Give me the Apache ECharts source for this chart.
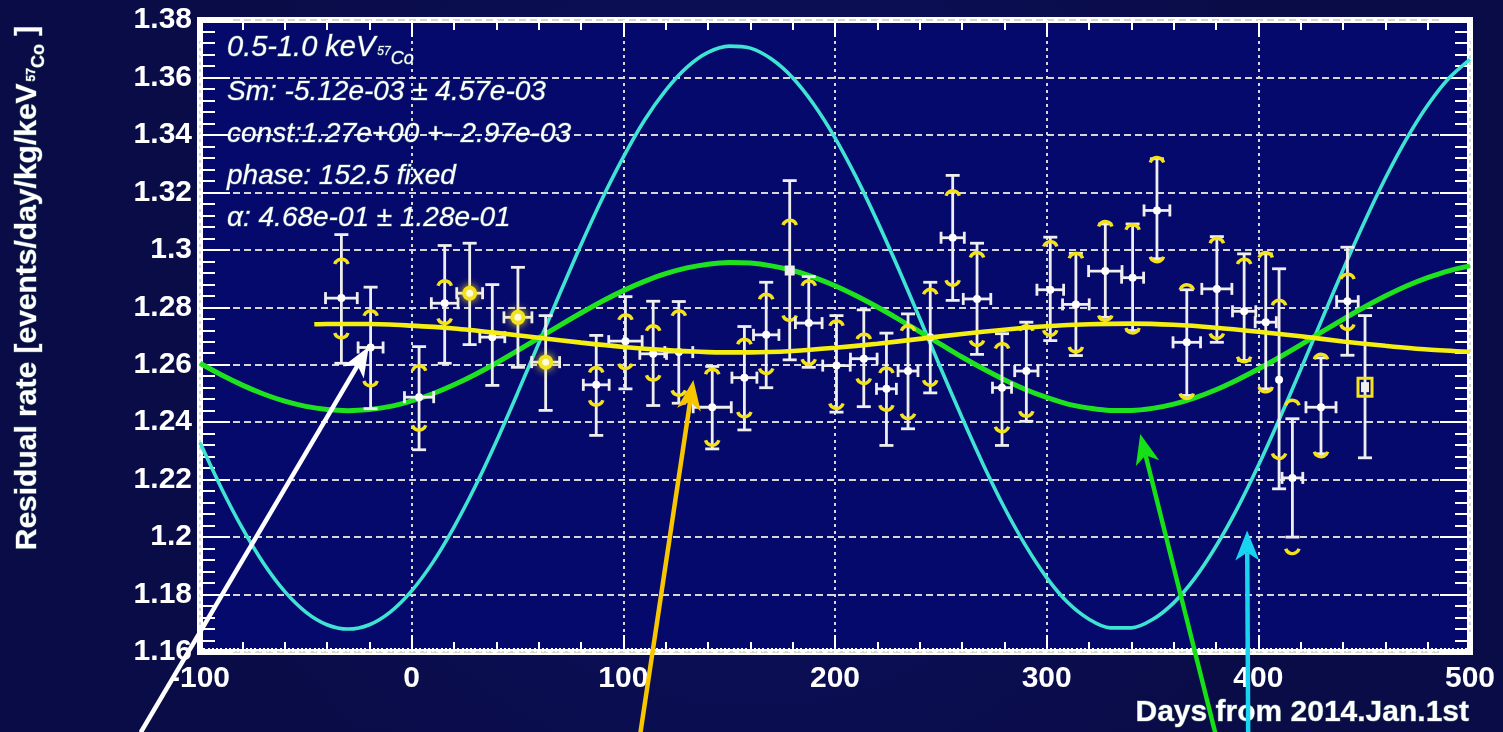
<!DOCTYPE html>
<html>
<head>
<meta charset="utf-8">
<script src="https://cdn.jsdelivr.net/npm/echarts@6/dist/echarts.min.js"></script>
<style>
html,body{margin:0;padding:0;background:#0c0f50;}
#chart{width:1503px;height:732px;}
</style>
</head>
<body>
<div id="chart"></div>
<script>
// ---------------- DATA ----------------
// Data points: day, rate, half-width in days, lower / upper error (white), lower / upper yellow caps
const days     = [-33.2,-19.4,3.5,15.6,27.4,38.1,50.2,63.3,87.2,101.0,114.1,126.2,142.0,157.2,167.5,178.6,187.6,200.7,213.6,224.3,234.5,245.0,255.6,267.1,278.9,290.4,301.7,313.8,327.7,340.6,352.1,366.2,380.4,393.3,403.5,409.8,416.1,429.6,442.1,450.4];
const rates    = [1.2832,1.2660,1.2487,1.2814,1.2849,1.2696,1.2765,1.2609,1.2530,1.2682,1.2638,1.2644,1.2452,1.2555,1.2704,1.2928,1.2745,1.2597,1.2621,1.2516,1.2578,1.2696,1.3042,1.2829,1.2520,1.2578,1.2861,1.2810,1.2926,1.2903,1.3137,1.2678,1.2864,1.2786,1.2748,1.2548,1.2206,1.2452,1.2821,1.2522];
const dayErr   = [7.5,5.9,6.9,6.3,6.1,5.9,6.6,6.6,6.1,7.9,6.3,6.6,9.0,5.9,6.0,0,6.3,6.5,6.3,4.7,4.7,0,5.5,6.5,4.5,5.5,6.3,6.3,7.9,5.2,6.1,6.5,7.1,5.5,5.0,0,4.9,7.1,5.1,0];
const rateLow  = [1.2605,1.2447,1.2304,1.2605,1.2670,1.2528,1.2591,1.2441,1.2354,1.2516,1.2458,1.2466,1.2307,1.2373,1.2520,1.2617,1.2591,1.2435,1.2454,1.2319,1.2377,1.2502,1.2824,1.2636,1.2319,1.2403,1.2684,1.2632,1.2765,1.2719,1.2969,1.2493,1.2678,1.2615,1.2516,1.2168,1.2000,1.2290,1.2633,1.2276];
const rateHigh = [1.3053,1.2870,1.2663,1.3015,1.3023,1.2879,1.2939,1.2771,1.2702,1.2837,1.2821,1.2820,1.2594,1.2733,1.2887,1.3241,1.2907,1.2771,1.2791,1.2710,1.2777,1.2887,1.3259,1.3023,1.2708,1.2748,1.3044,1.2988,1.3090,1.3090,1.3317,1.2861,1.3046,1.2986,1.2986,1.2934,1.2412,1.2624,1.3009,1.2771];
const yelLow   = [1.2704,1.2537,1.2383,1.2754,null,null,null,null,1.2470,1.2597,1.2557,1.2504,1.2330,1.2429,1.2580,1.2765,1.2612,1.2458,1.2545,1.2452,1.2423,1.2539,1.2887,1.2678,1.2377,1.2431,1.2713,1.2655,1.2765,1.2721,1.2969,1.2493,1.2702,1.2621,1.2516,1.2284,1.1953,1.2290,1.2733,null];
const yelHigh  = [1.2957,1.2777,1.2586,1.2882,null,null,null,null,1.2580,1.2763,1.2725,1.2777,1.2574,1.2678,1.2835,1.3093,1.2882,1.2742,1.2696,1.2578,1.2725,1.2852,1.3195,1.2980,1.2663,1.2725,1.3018,1.2977,1.3088,1.3077,1.3311,1.2868,1.3030,1.2957,1.2980,1.2814,1.2466,1.2626,1.2905,null];
// points whose yellow centre is visible, the square one and the boxed one
const yellowCentre = [4,6,7];
const squareCentre = [15];
const boxedCentre  = [39];

// Fit curves (every 10 days)
const curveDays  = [-100,-90,-80,-70,-60,-50,-40,-30,-20,-10,0,10,20,30,40,50,60,70,80,90,100,110,120,130,140,150,160,170,180,190,200,210,220,230,240,250,260,270,280,290,300,310,320,330,340,350,360,370,380,390,400,410,420,430,440,450,460,470,480,490,500];
const cyanRates  = [1.2329,1.2172,1.2031,1.1909,1.1811,1.1739,1.1695,1.1680,1.1695,1.1740,1.1813,1.1912,1.2035,1.2176,1.2333,1.2501,1.2674,1.2848,1.3018,1.3178,1.3323,1.3451,1.3555,1.3635,1.3687,1.3709,1.3702,1.3664,1.3599,1.3506,1.3390,1.3253,1.3099,1.2934,1.2762,1.2587,1.2416,1.2253,1.2103,1.1971,1.1859,1.1772,1.1714,1.1684,1.1684,1.1713,1.1771,1.1857,1.1968,1.2099,1.2249,1.2412,1.2583,1.2757,1.2930,1.3095,1.3249,1.3386,1.3503,1.3597,1.3663];
const greenRates = [1.2605,1.2565,1.2529,1.2498,1.2473,1.2455,1.2444,1.2440,1.2444,1.2455,1.2474,1.2499,1.2530,1.2566,1.2606,1.2649,1.2693,1.2737,1.2780,1.2821,1.2858,1.2890,1.2917,1.2937,1.2950,1.2956,1.2954,1.2944,1.2928,1.2904,1.2875,1.2840,1.2801,1.2759,1.2715,1.2671,1.2627,1.2586,1.2548,1.2514,1.2486,1.2463,1.2449,1.2441,1.2441,1.2448,1.2463,1.2485,1.2513,1.2547,1.2585,1.2626,1.2669,1.2714,1.2758,1.2800,1.2839,1.2874,1.2903,1.2927,1.2944];
const yellowDays  = [-46,-40,-20,0,20,40,60,80,100,120,140,160,180,200,220,240,260,280,300,320,340,360,380,400,420,440,460,480,500];
const yellowRates = [1.2741,1.2742,1.2742,1.2736,1.2726,1.2711,1.2694,1.2677,1.2662,1.2651,1.2644,1.2643,1.2648,1.2659,1.2673,1.2690,1.2707,1.2722,1.2734,1.2741,1.2743,1.2739,1.2729,1.2715,1.2699,1.2681,1.2666,1.2653,1.2645];

// Axis tick settings
const xMin = -100, xMax = 500, xStep = 100;
const yMin = 1.16, yMax = 1.38, yStep = 0.02;

// Annotation arrows: [tailDay, tailRate, tipDay, tipRate]
const whiteArrow  = [-128, 1.132, -20.3, 1.2663];
const yellowArrow = [108.1, 1.132, 133.1, 1.2547];
const greenArrow  = [379.6, 1.132, 344.2, 1.2359];
const cyanArrow   = [395.2, 1.132, 394.7, 1.2023];

// Text
const statLines = [
  '{a|0.5-1.0 keV}{s|57}{c|Co}',
  'Sm: -5.12e-03 ± 4.57e-03',
  'const:1.27e+00 +- 2.97e-03',
  'phase: 152.5 fixed',
  'α: 4.68e-01 ± 1.28e-01'
];
const yTitle = '{a|Residual rate [events/day/kg/keV}{s|57}{c|Co}{a| ]}';
const xTitle = 'Days from 2014.Jan.1st';

// ---------------- CHART ----------------
const chart = echarts.init(document.getElementById('chart'), null, {renderer: 'canvas'});

const pts = days.map((d, i) => [d, rates[i], dayErr[i], rateLow[i], rateHigh[i],
  yelLow[i] == null ? 0 : yelLow[i], yelHigh[i] == null ? 0 : yelHigh[i],
  yellowCentre.includes(i) ? 1 : squareCentre.includes(i) ? 2 : boxedCentre.includes(i) ? 3 : 0]);

const WHITE = '#eeeeee', YEL = '#f3e21c';

function renderPoint(params, api) {
  const t = api.value(0), v = api.value(1), dx = api.value(2);
  const lo = api.value(3), hi = api.value(4), yl = api.value(5), yh = api.value(6), kind = api.value(7);
  const c = api.coord([t, v]);
  const pLo = api.coord([t, lo]), pHi = api.coord([t, hi]);
  const x = c[0];
  const ch = [];
  const ls = {stroke: WHITE, lineWidth: 2.8};
  ch.push({type: 'line', shape: {x1: x, y1: pLo[1], x2: x, y2: pHi[1]}, style: ls});
  ch.push({type: 'line', shape: {x1: x - 7, y1: pLo[1], x2: x + 7, y2: pLo[1]}, style: ls});
  ch.push({type: 'line', shape: {x1: x - 7, y1: pHi[1], x2: x + 7, y2: pHi[1]}, style: ls});
  if (dx > 0) {
    const pL = api.coord([t - dx, v]), pR = api.coord([t + dx, v]);
    ch.push({type: 'line', shape: {x1: pL[0], y1: c[1], x2: pR[0], y2: c[1]}, style: ls});
    ch.push({type: 'line', shape: {x1: pL[0], y1: c[1] - 6, x2: pL[0], y2: c[1] + 6}, style: ls});
    ch.push({type: 'line', shape: {x1: pR[0], y1: c[1] - 6, x2: pR[0], y2: c[1] + 6}, style: ls});
  }
  const ys = {stroke: YEL, lineWidth: 3.4, fill: null};
  if (yl > 0) {
    const py = api.coord([t, yl])[1];
    ch.push({type: 'arc', shape: {cx: x, cy: py - 4, r: 7, startAngle: 0.3, endAngle: Math.PI - 0.3}, style: ys});
  }
  if (yh > 0) {
    const py = api.coord([t, yh])[1];
    ch.push({type: 'arc', shape: {cx: x, cy: py + 4, r: 7, startAngle: Math.PI + 0.3, endAngle: 2 * Math.PI - 0.3}, style: ys});
  }
  if (kind === 1) {
    ch.push({type: 'circle', shape: {cx: x, cy: c[1], r: 7.5}, style: {fill: YEL, shadowBlur: 8, shadowColor: YEL}});
    ch.push({type: 'circle', shape: {cx: x, cy: c[1], r: 3.5}, style: {fill: '#fffbe0'}});
  } else if (kind === 2) {
    ch.push({type: 'rect', shape: {x: x - 5, y: c[1] - 5, width: 10, height: 10}, style: {fill: WHITE}});
  } else if (kind === 3) {
    ch.push({type: 'rect', shape: {x: x - 7, y: c[1] - 9, width: 14, height: 18}, style: {fill: null, stroke: YEL, lineWidth: 3}});
    ch.push({type: 'rect', shape: {x: x - 4, y: c[1] - 5, width: 8, height: 10}, style: {fill: WHITE}});
  } else {
    ch.push({type: 'circle', shape: {cx: x, cy: c[1], r: 4}, style: {fill: '#ffffff'}});
  }
  return {type: 'group', children: ch};
}

const labelFont = {color: '#ffffff', fontSize: 30, fontWeight: 'bold', fontFamily: 'Liberation Sans'};
const tickStyle = {color: '#ffffff', width: 2};

const option = {
  backgroundColor: {
    type: 'radial', x: 0.5, y: 0.45, r: 0.8,
    colorStops: [{offset: 0, color: '#0c1060'}, {offset: 1, color: '#0a0c48'}]
  },
  animation: false,
  grid: {left: 200, right: 33, top: 20, bottom: 80, show: true,
         backgroundColor: '#06096c', borderColor: '#ffffff', borderWidth: 6},
  xAxis: [
    {type: 'value', min: xMin, max: xMax, interval: xStep, position: 'bottom',
     axisLine: {show: false, onZero: false},
     axisTick: {inside: true, length: 17, lineStyle: tickStyle},
     minorTick: {show: true, splitNumber: 5, length: 10, lineStyle: tickStyle},
     splitLine: {show: true, lineStyle: {color: '#d6d6d6', width: 2, type: [3, 4]}},
     axisLabel: Object.assign({margin: 12}, labelFont)},
    {type: 'value', min: xMin, max: xMax, interval: 20, position: 'bottom',
     axisLine: {show: false, onZero: false}, axisLabel: {show: false}, splitLine: {show: false},
     axisTick: {inside: true, length: 4, lineStyle: tickStyle},
     minorTick: {show: true, splitNumber: 10, length: 4, lineStyle: tickStyle}},
    {type: 'value', min: xMin, max: xMax, interval: xStep, position: 'top',
     axisLine: {show: false, onZero: false}, axisLabel: {show: false}, splitLine: {show: false},
     axisTick: {inside: true, length: 17, lineStyle: tickStyle},
     minorTick: {show: true, splitNumber: 5, length: 10, lineStyle: tickStyle}}
  ],
  yAxis: [
    {type: 'value', min: yMin, max: yMax, interval: yStep, position: 'left',
     axisLine: {show: false, onZero: false},
     axisTick: {inside: true, length: 30, lineStyle: tickStyle},
     minorTick: {show: true, splitNumber: 5, length: 15, lineStyle: tickStyle},
     splitLine: {show: true, lineStyle: {color: '#d6d6d6', width: 2.2, type: [7, 4]}},
     axisLabel: Object.assign({margin: 8, formatter: v => String(+v.toFixed(2))}, labelFont)},
    {type: 'value', min: yMin, max: yMax, interval: yStep, position: 'right',
     axisLine: {show: false, onZero: false}, axisLabel: {show: false}, splitLine: {show: false},
     axisTick: {inside: true, length: 30, lineStyle: tickStyle},
     minorTick: {show: true, splitNumber: 5, length: 15, lineStyle: tickStyle}}
  ],
  series: [
    {name: 'cyan', type: 'line', smooth: 0.3, showSymbol: false, z: 2,
     data: curveDays.map((d, i) => [d, cyanRates[i]]),
     lineStyle: {color: '#3fe3d3', width: 3.6}},
    {name: 'green', type: 'line', smooth: 0.3, showSymbol: false, z: 3,
     data: curveDays.map((d, i) => [d, greenRates[i]]),
     lineStyle: {color: '#1fe21f', width: 5}},
    {name: 'points', type: 'custom', z: 4, renderItem: renderPoint,
     encode: {x: 0, y: 1}, data: pts},
    {name: 'yellow', type: 'line', smooth: 0.3, showSymbol: false, z: 5,
     data: yellowDays.map((d, i) => [d, yellowRates[i]]),
     lineStyle: {color: '#f4ee12', width: 4.6}}
  ]
};
chart.setOption(option);

// ---------------- text + arrows ----------------
const FAM = 'Liberation Sans';
const statRich = {
  a: {fontSize: 29, fontStyle: 'italic', fontFamily: FAM, fill: '#ffffff', lineHeight: 40, verticalAlign: 'middle'},
  s: {fontSize: 12, fontStyle: 'italic', fontFamily: FAM, fill: '#ffffff', verticalAlign: 'bottom', padding: [0, 0, 10, 2]},
  c: {fontSize: 18, fontStyle: 'italic', fontFamily: FAM, fill: '#ffffff', verticalAlign: 'bottom'}
};
const statY = [48, 92, 134, 176, 218];
const graphics = statLines.map((txt, i) => ({
  type: 'text', x: 227, y: statY[i], z: 20,
  style: {text: txt, fontSize: 28, fontStyle: 'italic', fontFamily: FAM, fill: '#ffffff',
          stroke: 'rgba(150,220,150,0.45)', lineWidth: 1,
          align: 'left', verticalAlign: 'middle', rich: statRich}
}));

graphics.push({
  type: 'text', x: 28, y: 288, rotation: Math.PI / 2, z: 20,
  style: {text: yTitle, align: 'center', verticalAlign: 'middle',
          stroke: 'rgba(150,220,150,0.45)', lineWidth: 1,
          rich: {
            a: {fontSize: 30, fontWeight: 'bold', fontFamily: FAM, fill: '#ffffff', lineHeight: 40, verticalAlign: 'middle'},
            s: {fontSize: 12, fontWeight: 'bold', fontFamily: FAM, fill: '#ffffff', verticalAlign: 'bottom', padding: [0, 0, 10, 2]},
            c: {fontSize: 18, fontWeight: 'bold', fontFamily: FAM, fill: '#ffffff', verticalAlign: 'bottom'}
          }}
});
graphics.push({
  type: 'text', x: 1469, y: 713, z: 20,
  style: {text: xTitle, fontSize: 30, fontWeight: 'bold', fontFamily: FAM, fill: '#ffffff',
          stroke: 'rgba(150,220,150,0.45)', lineWidth: 1,
          align: 'right', verticalAlign: 'middle'}
});

function arrow(def, color) {
  const tail = chart.convertToPixel({xAxisIndex: 0, yAxisIndex: 0}, [def[0], def[1]]);
  const tip = chart.convertToPixel({xAxisIndex: 0, yAxisIndex: 0}, [def[2], def[3]]);
  const dx = tip[0] - tail[0], dy = tip[1] - tail[1];
  const L = Math.hypot(dx, dy), ux = dx / L, uy = dy / L, nx = -uy, ny = ux;
  const hl = 30, hw = 12, notch = 22;
  const bx = tip[0] - ux * hl, by = tip[1] - uy * hl;
  const mx = tip[0] - ux * notch, my = tip[1] - uy * notch;
  return [
    {type: 'line', z: 30, shape: {x1: tail[0], y1: tail[1], x2: mx, y2: my},
     style: {stroke: color, lineWidth: 4.5}},
    {type: 'polygon', z: 30, shape: {points: [tip, [bx + nx * hw, by + ny * hw], [mx, my], [bx - nx * hw, by - ny * hw]]},
     style: {fill: color}}
  ];
}
graphics.push(...arrow(whiteArrow, '#ffffff'));
graphics.push(...arrow(yellowArrow, '#f7c600'));
graphics.push(...arrow(greenArrow, '#16e016'));
graphics.push(...arrow(cyanArrow, '#18d4f0'));

chart.setOption({graphic: graphics});
</script>
</body>
</html>
